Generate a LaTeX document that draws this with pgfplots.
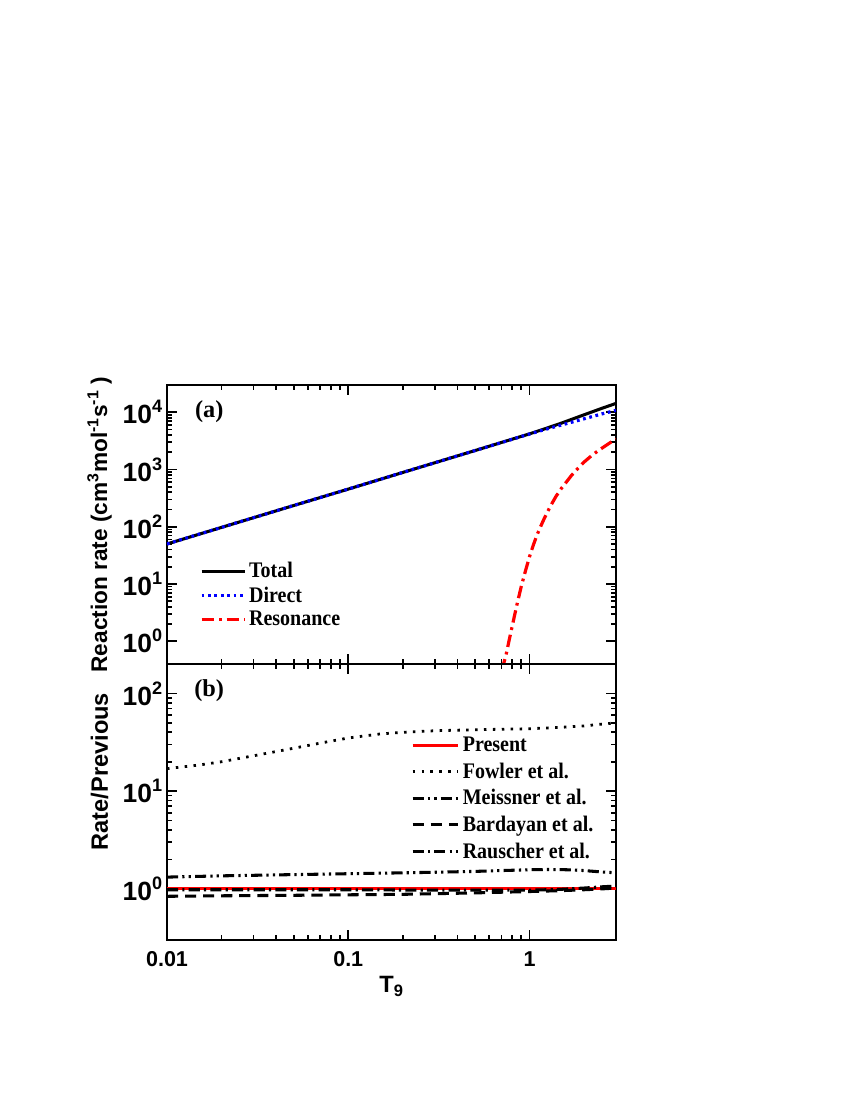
\documentclass[border=0pt]{standalone}
\usepackage{fontspec}
\setmainfont{Liberation Serif}
\setsansfont{Liberation Sans}
\usepackage{graphicx}
\usepackage{pgfplots}
\pgfplotsset{compat=1.18}
\newcommand{\tl}[1]{\fontsize{19}{19}\selectfont 10\raisebox{0.42em}{\fontsize{13}{13}\selectfont #1}}
\newcommand{\lgd}[1]{\scalebox{0.9}[1]{#1}}
\pgfplotsset{
  every axis/.append style={
    scale only axis,
    axis line style={line width=1.7pt},
    major tick length=7pt,
    minor tick length=3.5pt,
    tick align=inside,
    tick style={line width=1.2pt, black},
    ticklabel style={font=\sffamily\bfseries\fontsize{15.5}{15.5}\selectfont},
    label style={font=\sffamily\bfseries\fontsize{17}{17}\selectfont},
    legend cell align=left,
  },
  every axis legend/.append style={draw=none, fill=none,
      font=\bfseries\fontsize{16}{16}\selectfont, inner sep=1pt},
}
\begin{document}
\begin{tikzpicture}
\path[use as bounding box] (0pt,0pt) rectangle (612pt,792pt);
% ---------- panel (a)
\begin{axis}[xmode=log, ymode=log,
  width=323.28pt, height=200.88pt,
  at={(120.24pt,313.92pt)}, anchor=south west,
  xmin=0.01, xmax=3, ymin=0.4, ymax=3e4,
  xtick={0.01,0.1,1},
  xticklabels={},
  ytick={1,10,100,1000,10000},
  yticklabels={\tl{0},\tl{1},\tl{2},\tl{3},\tl{4}},
  ylabel={Reaction rate (cm\textsuperscript{3}mol\textsuperscript{-1}s\textsuperscript{-1} )},
  ylabel style={at={(axis description cs:-0.15,0.5)}, anchor=center, font=\sffamily\bfseries\fontsize{16.3}{16.3}\selectfont},
  legend style={at={(0.07,0.38)}, anchor=north west, row sep=1pt},
  legend image code/.code={\draw[#1] (0pt,0pt) -- (31pt,0pt);},
]
\addplot[black, line width=2.2pt] coordinates {
(0.01,50) (0.02,97.5) (0.05,235) (0.1,455) (0.2,889) (0.5,2143) (1,4200)
(1.2,5085) (1.5,6470) (2,9050) (2.5,11700) (3,14300)};
\addlegendentry{\lgd{Total}}
\addplot[blue, line width=2.3pt, dash pattern=on 2pt off 2.6pt] coordinates {
(0.01,50) (0.02,97.5) (0.05,235) (0.1,455) (0.2,889) (0.5,2143) (1,4169)
(1.2,4950) (1.5,6000) (2,7700) (2.5,9350) (3,10800)};
\addlegendentry{\lgd{Direct}}
\addplot[red, line width=2.3pt, dash pattern=on 9pt off 3.5pt on 2pt off 3.5pt] coordinates {
(0.70,0.30) (0.74,0.55) (0.77,1.0) (0.80,1.75) (0.85,4.2) (0.90,9.0) (0.95,17)
(1.00,30) (1.05,48) (1.10,72) (1.15,100) (1.20,135) (1.30,225) (1.40,340)
(1.50,470) (1.60,610) (1.70,780) (1.80,960) (2.00,1350) (2.20,1750)
(2.40,2150) (2.60,2550) (2.80,2980) (3.00,3400)};
\addlegendentry{\lgd{Resonance}}
\node[font=\bfseries\fontsize{17.5}{17.5}\selectfont] at (axis description cs:0.094,0.905) {(a)};
\end{axis}
% ---------- panel (b)
\begin{axis}[xmode=log, ymode=log,
  width=323.28pt, height=198.72pt,
  at={(120.24pt,115.2pt)}, anchor=south west,
  xmin=0.01, xmax=3, ymin=0.3, ymax=200,
  xtick={0.01,0.1,1},
  xticklabels={0.01,0.1,1},
  xticklabel style={yshift=-5pt},
  ytick={1,10,100},
  yticklabels={\tl{0},\tl{1},\tl{2}},
  xlabel={T\textsubscript{9}},
  ylabel={Rate/Previous},
  ylabel style={at={(axis description cs:-0.15,0.61)}, anchor=center},
  legend style={at={(0.54,0.752)}, anchor=north west, row sep=2.6pt},
  legend image code/.code={\draw[#1] (0pt,0pt) -- (33pt,0pt);},
]
\addplot[red, line width=2.2pt] coordinates {(0.01,1) (3,1)};
\addlegendentry{\lgd{Present}}
\addplot[black, line width=2pt, dash pattern=on 1.8pt off 4.6pt] coordinates {
(0.01,17) (0.015,18.5) (0.02,20) (0.03,23) (0.05,27.5) (0.07,31) (0.1,35)
(0.15,38.5) (0.2,40) (0.3,41.5) (0.5,42.5) (0.7,43) (1,43.5) (1.5,45)
(2,46.5) (2.5,48.5) (3,50)};
\addlegendentry{\lgd{Fowler et al.}}
\addplot[black, line width=2.2pt, dash pattern=on 8pt off 3pt on 1.6pt off 3pt on 1.6pt off 3pt] coordinates {
(0.01,1.32) (0.02,1.36) (0.05,1.40) (0.1,1.43) (0.2,1.46) (0.3,1.48) (0.5,1.51)
(0.7,1.54) (1,1.57) (1.3,1.58) (1.6,1.57) (2,1.54) (2.5,1.49) (3,1.46)};
\addlegendentry{\lgd{Meissner et al.}}
\addplot[black, line width=2.2pt, dash pattern=on 8pt off 5pt] coordinates {
(0.01,0.84) (0.02,0.85) (0.05,0.86) (0.1,0.87) (0.2,0.88) (0.5,0.91) (1,0.94)
(1.5,0.96) (2,0.98) (2.5,1.0) (3,1.02)};
\addlegendentry{\lgd{Bardayan et al.}}
\addplot[black, line width=2.2pt, dash pattern=on 8pt off 3pt on 1.6pt off 3pt] coordinates {
(0.01,0.98) (0.05,0.98) (0.1,0.98) (0.3,0.97) (0.7,0.97) (1,0.97) (1.5,0.99)
(2,1.02) (2.5,1.05) (3,1.07)};
\addlegendentry{\lgd{Rauscher et al.}}
\node[font=\bfseries\fontsize{17.5}{17.5}\selectfont] at (axis description cs:0.094,0.905) {(b)};
\end{axis}
\end{tikzpicture}
\end{document}
